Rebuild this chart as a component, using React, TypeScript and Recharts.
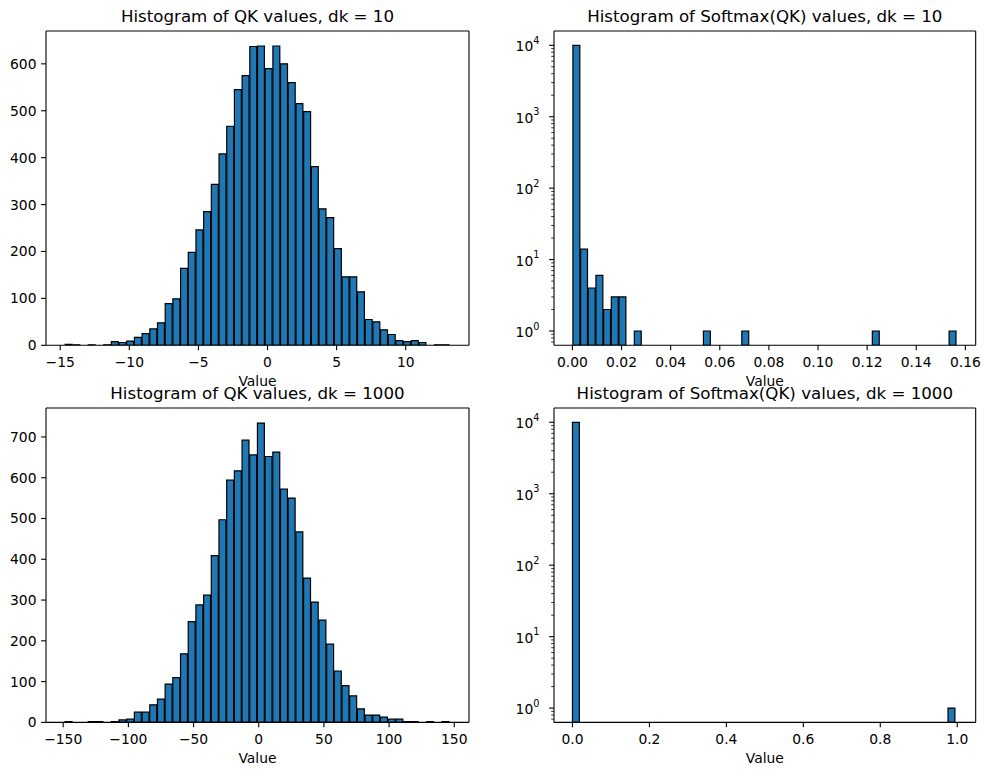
import React from "react";
import { BarChart, Bar, XAxis, YAxis, Label, ReferenceLine } from "recharts";

// histogram counts, 50 bins each
const QK10_COUNTS = [
  2, 1, 0, 1, 0, 1, 8, 6, 9, 17, 25, 35, 48, 89, 99, 164, 198, 246, 285, 343, 408, 467, 545, 575, 637,
  638, 590, 638, 600, 560, 515, 498, 381, 291, 272, 206, 146, 146, 114, 55, 50, 33, 23, 10, 8, 10, 6, 0, 1, 1,
];
const QK1000_COUNTS = [
  2, 0, 0, 2, 2, 0, 2, 6, 8, 25, 25, 43, 57, 94, 110, 168, 247, 288, 312, 409, 497, 594, 617, 692, 656,
  734, 652, 663, 572, 550, 467, 354, 295, 251, 192, 126, 90, 65, 33, 18, 18, 13, 8, 8, 2, 2, 0, 2, 0, 2,
];
const SOFT10_COUNTS = [
  9963, 14, 4, 6, 2, 3, 3, 0, 1, 0, 0, 0, 0, 0, 0, 0, 0, 1, 0, 0, 0, 0, 1, 0, 0,
  0, 0, 0, 0, 0, 0, 0, 0, 0, 0, 0, 0, 0, 0, 1, 0, 0, 0, 0, 0, 0, 0, 0, 0, 1,
];
const SOFT1000_COUNTS = [
  9999, 0, 0, 0, 0, 0, 0, 0, 0, 0, 0, 0, 0, 0, 0, 0, 0, 0, 0, 0, 0, 0, 0, 0, 0,
  0, 0, 0, 0, 0, 0, 0, 0, 0, 0, 0, 0, 0, 0, 0, 0, 0, 0, 0, 0, 0, 0, 0, 0, 1,
];

// bin edges (min, max of the data)
const QK10_RANGE = [-14.64, 13.19];
const QK1000_RANGE = [-148.5, 146.5];
const SOFT10_RANGE = [0.0002, 0.1565];
const SOFT1000_RANGE = [0, 0.996];

// axis limits and ticks
const QK10_XDOMAIN = [-16.03, 14.58];
const QK1000_XDOMAIN = [-163.2, 161.3];
const SOFT10_XDOMAIN = [-0.0075, 0.1642];
const SOFT1000_XDOMAIN = [-0.048, 1.048];

const QK10_XTICKS = [-15, -10, -5, 0, 5, 10];
const QK1000_XTICKS = [-150, -100, -50, 0, 50, 100, 150];
const SOFT10_XTICKS = [0, 0.02, 0.04, 0.06, 0.08, 0.1, 0.12, 0.14, 0.16];
const SOFT1000_XTICKS = [0, 0.2, 0.4, 0.6, 0.8, 1.0];

const QK10_YTICKS = [0, 100, 200, 300, 400, 500, 600];
const QK1000_YTICKS = [0, 100, 200, 300, 400, 500, 600, 700];
const LOG_DOMAIN = [0.631, 15849];

const FONT = "DejaVu Sans";
const BLUE = "#1f77b4";

// major + minor ticks of the log axes
const logTicks: number[] = [];
for (let e = -1; e <= 4; e++) {
  for (let m = 1; m <= 9; m++) {
    const v = m * Math.pow(10, e);
    if (v >= LOG_DOMAIN[0] && v <= LOG_DOMAIN[1]) logTicks.push(v);
  }
}

const minus = (s: string) => s.replace("-", "\u2212");

function LogTick(props: any) {
  const { x, y, payload } = props;
  const v = payload.value;
  const exp = Math.round(Math.log10(v));
  const major = Math.abs(Math.pow(10, exp) - v) < 1e-6 * v;
  return (
    <g>
      <line x1={x - (major ? 4.9 : 2.8)} x2={x} y1={y} y2={y} stroke="#000" strokeWidth={major ? 1.1 : 0.8} />
      {major && (
        <text x={x - 14.6} y={y + 6} textAnchor="end" fontFamily={FONT} fontSize={13.9} fill="#000">
          10
          <tspan dy={-7.5} fontSize={9.7}>
            {exp}
          </tspan>
        </text>
      )}
    </g>
  );
}

type PanelProps = {
  title: string;
  counts: number[];
  range: number[];
  xDomain: number[];
  xTicks: number[];
  fmt: (v: number) => string;
  yDomain: number[];
  yTicks?: number[];
  log?: boolean;
  left: number;
  top: number;
  width: number;
  height: number;
};

function Panel({ title, counts, range, xDomain, xTicks, fmt, yDomain, yTicks, log, left, top, width, height }: PanelProps) {
  const binW = (range[1] - range[0]) / counts.length;
  const data = counts.map((c, i) => ({
    x: range[0] + (i + 0.5) * binW,
    count: log && c === 0 ? null : c,
  }));
  const barSize = (width * binW) / (xDomain[1] - xDomain[0]);
  const axisLine = { stroke: "#000", strokeWidth: 1.1 };
  const tickStyle = { fill: "#000", fontSize: 13.9, fontFamily: FONT };

  return (
    <div style={{ position: "absolute", left: left - 50, top: top - 40 }}>
      <BarChart
        width={width + 60}
        height={height + 90}
        data={data}
        margin={{ top: 40, right: 10, bottom: 0, left: 0 }}
        barCategoryGap={0}
        barGap={0}
      >
        <XAxis
          dataKey="x"
          type="number"
          domain={xDomain}
          allowDataOverflow
          ticks={xTicks}
          tickFormatter={fmt}
          height={50}
          axisLine={axisLine}
          tickLine={axisLine}
          tickSize={4.9}
          tickMargin={7}
          tick={tickStyle}
          interval={0}
        >
          <Label
            content={(p: any) => {
              const vb = p.viewBox || { x: 50, y: 40 + height, width };
              const cx = vb.x + vb.width / 2;
              return (
                <g>
                  <text x={cx} y={vb.y + 41} textAnchor="middle" fontFamily={FONT} fontSize={13.9} fill="#000">
                    Value
                  </text>
                  <text x={cx} y={vb.y - height - 8.7} textAnchor="middle" fontFamily={FONT} fontSize={16.67} fill="#000">
                    {title}
                  </text>
                </g>
              );
            }}
          />
        </XAxis>
        {log ? (
          <YAxis
            type="number"
            scale="log"
            domain={yDomain}
            allowDataOverflow
            ticks={logTicks}
            interval={0}
            width={50}
            axisLine={axisLine}
            tickLine={false}
            tickSize={0}
            tickMargin={0}
            tick={<LogTick />}
          />
        ) : (
          <YAxis
            type="number"
            domain={yDomain}
            allowDataOverflow
            ticks={yTicks}
            interval={0}
            width={50}
            axisLine={axisLine}
            tickLine={axisLine}
            tickSize={4.9}
            tickMargin={4.6}
            tick={tickStyle}
          />
        )}
        <Bar
          dataKey="count"
          fill={BLUE}
          stroke="#000"
          strokeWidth={1.2}
          barSize={barSize}
          isAnimationActive={false}
        />
        {/* top and right spines */}
        <ReferenceLine y={yDomain[1]} stroke="#000" strokeWidth={1.1} />
        <ReferenceLine x={xDomain[1]} stroke="#000" strokeWidth={1.1} />
      </BarChart>
    </div>
  );
}

const fmtInt = (v: number) => minus(String(v));

export default function App() {
  return (
    <div style={{ position: "absolute", left: 0, top: 0, width: 991, height: 776, background: "#fff", overflow: "hidden" }}>
      <Panel
        title="Histogram of QK values, dk = 10"
        counts={QK10_COUNTS}
        range={QK10_RANGE}
        xDomain={QK10_XDOMAIN}
        xTicks={QK10_XTICKS}
        fmt={fmtInt}
        yDomain={[0, 670]}
        yTicks={QK10_YTICKS}
        left={46.3}
        top={30.7}
        width={423}
        height={314.3}
      />
      <Panel
        title="Histogram of Softmax(QK) values, dk = 10"
        counts={SOFT10_COUNTS}
        range={SOFT10_RANGE}
        xDomain={SOFT10_XDOMAIN}
        xTicks={SOFT10_XTICKS}
        fmt={(v) => v.toFixed(2)}
        yDomain={LOG_DOMAIN}
        log
        left={554.3}
        top={30.7}
        width={421.7}
        height={314.3}
      />
      <Panel
        title="Histogram of QK values, dk = 1000"
        counts={QK1000_COUNTS}
        range={QK1000_RANGE}
        xDomain={QK1000_XDOMAIN}
        xTicks={QK1000_XTICKS}
        fmt={fmtInt}
        yDomain={[0, 771]}
        yTicks={QK1000_YTICKS}
        left={46.3}
        top={408.3}
        width={423}
        height={314.4}
      />
      <Panel
        title="Histogram of Softmax(QK) values, dk = 1000"
        counts={SOFT1000_COUNTS}
        range={SOFT1000_RANGE}
        xDomain={SOFT1000_XDOMAIN}
        xTicks={SOFT1000_XTICKS}
        fmt={(v) => v.toFixed(1)}
        yDomain={LOG_DOMAIN}
        log
        left={554.3}
        top={408.3}
        width={421.7}
        height={314.4}
      />
    </div>
  );
}
